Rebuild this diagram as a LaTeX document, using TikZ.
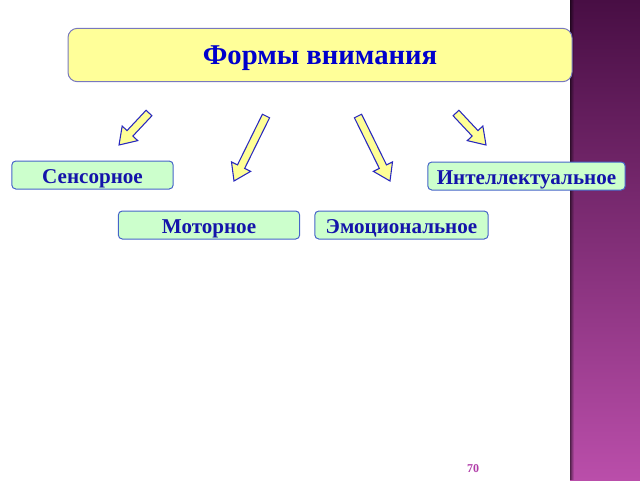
\documentclass[tikz,border=0pt]{standalone}
\usepackage{fontspec}
\setmainfont{Liberation Serif}
\usetikzlibrary{calc}

\definecolor{titlefill}{RGB}{255,255,153}
\definecolor{titleline}{RGB}{120,120,190}
\definecolor{titletext}{RGB}{0,0,204}
\definecolor{formfill}{RGB}{204,255,204}
\definecolor{formline}{RGB}{70,100,200}
\definecolor{formtext}{RGB}{20,20,170}
\definecolor{arrowfill}{RGB}{255,255,150}
\definecolor{arrowline}{RGB}{40,40,190}
\definecolor{stripetop}{RGB}{72,14,68}
\definecolor{stripebottom}{RGB}{186,78,170}
\definecolor{pagenum}{RGB}{176,60,168}

\tikzset{every picture/.style={line width=0.75pt}}
\tikzset{
  titlebox/.style={draw=titleline, fill=titlefill, rounded corners=7pt, minimum width=378pt, minimum height=40pt, text height=14pt, text depth=0pt, font=\fontsize{21.5}{24}\selectfont\bfseries, text=titletext},
  formbox/.style={draw=formline, fill=formfill, rounded corners=3pt, minimum height=21pt, inner sep=0pt, text height=12pt, text depth=0pt, font=\fontsize{15.8}{18}\selectfont\bfseries, text=formtext},
  arrowshape/.style={draw=arrowline, fill=arrowfill, line width=0.8pt, line join=miter}
}

% hollow block arrow from #1 to #2
\newcommand\formarrow[2]{%
  \coordinate (hb) at ($(#2)!12pt!(#1)$);
  \draw[arrowshape] ($(#1)!3pt!90:(#2)$) -- ($(hb)!3pt!90:(#2)$) -- ($(hb)!8pt!90:(#2)$) -- (#2)
    -- ($(hb)!8pt!-90:(#2)$) -- ($(hb)!3pt!-90:(#2)$) -- ($(#1)!3pt!-90:(#2)$) -- cycle;
}

\begin{document}
\begin{tikzpicture}[x=0.75pt,y=0.75pt,yscale=-1,xscale=1]
\useasboundingbox (0,0) rectangle (640,480);

%purple stripe on the right
\shade [top color=stripetop, bottom color=stripebottom] (570,0) rectangle (640,480);
\foreach \i/\o in {0/0.55,1/0.4,2/0.25,3/0.12}
  \fill [black, opacity=\o] (570+\i,0) rectangle (571+\i,480);

%title
\node [titlebox] (title) at (320,55) {Формы внимания};

%arrows
\coordinate (s1) at (149,113); \coordinate (e1) at (119,145);
\coordinate (s2) at (266,116); \coordinate (e2) at (234,181);
\coordinate (s3) at (358,116); \coordinate (e3) at (390,181);
\coordinate (s4) at (456,113); \coordinate (e4) at (486,145);
\formarrow{s1}{e1}
\formarrow{s2}{e2}
\formarrow{s3}{e3}
\formarrow{s4}{e4}

%forms
\node [formbox, minimum width=121pt] (sensor) at (92.5,175) {Сенсорное};
\node [formbox, minimum width=148pt] (intel) at (526.5,176) {Интеллектуальное};
\node [formbox, minimum width=136pt] (motor) at (209,225) {Моторное};
\node [formbox, minimum width=130pt] (emot) at (401.5,225) {Эмоциональное};

%page number
\node [text=pagenum, font=\fontsize{9}{10}\selectfont\bfseries] (page) at (473,469) {70};

\end{tikzpicture}
\end{document}
